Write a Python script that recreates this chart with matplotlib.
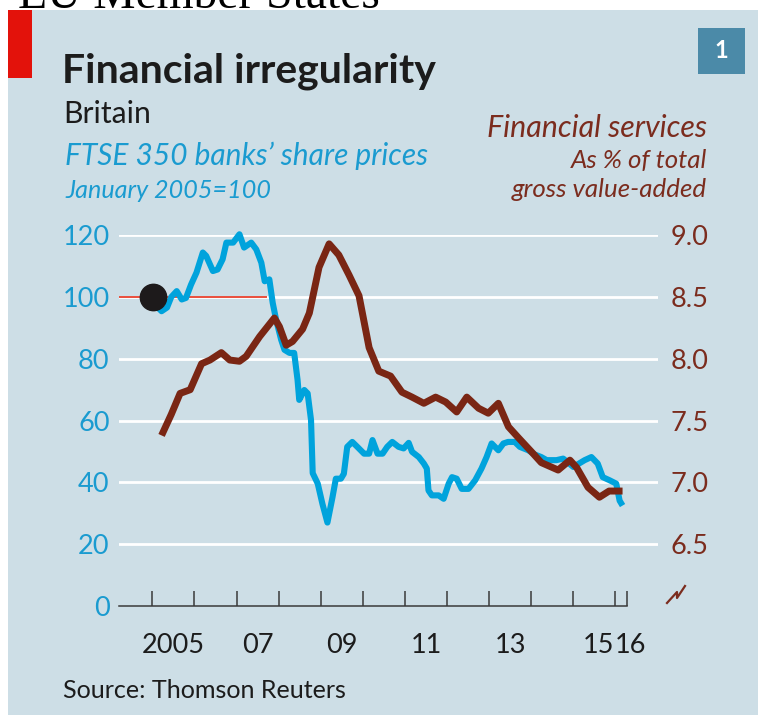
import numpy as np
import matplotlib.pyplot as plt
from matplotlib.patches import Rectangle
from matplotlib.lines import Line2D

# FTSE 350 banks' share prices, January 2005=100 (left axis)
bank_years = [2005.00, 2005.10, 2005.22, 2005.35, 2005.45, 2005.58, 2005.70, 2005.80, 2005.92,
              2006.05, 2006.20, 2006.28, 2006.44, 2006.55, 2006.67, 2006.76, 2006.92,
              2007.07, 2007.18, 2007.35, 2007.47, 2007.59, 2007.67, 2007.78, 2007.86, 2007.94,
              2008.06, 2008.14, 2008.26, 2008.37, 2008.45, 2008.49, 2008.61, 2008.69, 2008.77,
              2008.81, 2008.93, 2009.04, 2009.16, 2009.28, 2009.36, 2009.48, 2009.55, 2009.63,
              2009.75, 2009.87, 2010.03, 2010.15, 2010.23, 2010.35, 2010.47, 2010.58, 2010.70,
              2010.85, 2010.97, 2011.09, 2011.17, 2011.33, 2011.45, 2011.52, 2011.56, 2011.64,
              2011.80, 2011.92, 2012.04, 2012.12, 2012.23, 2012.35, 2012.51, 2012.67, 2012.82,
              2012.94, 2013.06, 2013.22, 2013.34, 2013.45, 2013.61, 2013.73, 2013.93, 2014.09,
              2014.24, 2014.37, 2014.60, 2014.76, 2015.00, 2015.27, 2015.43, 2015.58, 2015.70,
              2015.86, 2016.02, 2016.10, 2016.17]
bank_index = [100, 97, 95.4, 96.6, 100, 101.9, 99.2, 99.7, 104,
              107.9, 114.4, 113.3, 108.4, 108.9, 112.2, 117.6, 117.6,
              120.3, 116, 117.6, 115.4, 111.1, 105.1, 105.7, 98.1, 92.7,
              86.2, 82.9, 81.9, 81.9, 73.2, 66.7, 69.9, 68.8, 60.2,
              43, 39.6, 33.1, 27, 35.2, 41.2, 41.2, 42.8, 51.5,
              53.1, 51.5, 49.3, 49.3, 53.7, 49.3, 49.3, 51.5, 53.1,
              51.5, 51.0, 52.8, 49.9, 48.2, 46.1, 44.5, 37.4, 35.8,
              35.8, 34.7, 39.6, 41.7, 41.2, 37.9, 37.9, 40.7, 44.5,
              48.2, 52.6, 50.4, 52.6, 53.1, 53.1, 51.5, 50.4, 49,
              48.2, 47.2, 47.2, 47.7, 45, 47.2, 48.2, 46.1, 41.7,
              40.7, 39.6, 34.1, 32.5]

# Financial services, % of total gross value-added (right axis)
fin_years = [2005.22, 2005.45, 2005.66, 2005.90, 2006.17, 2006.37, 2006.64, 2006.84,
             2007.07, 2007.23, 2007.55, 2007.90, 2008.02, 2008.18, 2008.33, 2008.57,
             2008.73, 2008.96, 2009.20, 2009.43, 2009.67, 2009.91, 2010.15, 2010.38,
             2010.66, 2010.93, 2011.17, 2011.45, 2011.73, 2011.97, 2012.23, 2012.47,
             2012.75, 2012.98, 2013.22, 2013.46, 2013.70, 2014.00, 2014.24, 2014.64,
             2014.92, 2015.08, 2015.35, 2015.62, 2015.85, 2016.17]
fin_share = [7.38, 7.55, 7.72, 7.75, 7.96, 7.99, 8.05, 7.99,
             7.98, 8.02, 8.18, 8.33, 8.26, 8.11, 8.14, 8.24,
             8.37, 8.74, 8.93, 8.84, 8.68, 8.51, 8.09, 7.90,
             7.86, 7.73, 7.69, 7.64, 7.69, 7.65, 7.57, 7.69,
             7.60, 7.56, 7.64, 7.45, 7.36, 7.25, 7.16, 7.10,
             7.18, 7.12, 6.96, 6.88, 6.93, 6.93]

left_ticks = [0, 20, 40, 60, 80, 100, 120]
right_ticks = [6.5, 7.0, 7.5, 8.0, 8.5, 9.0]
year_labels = ['2005', '07', '09', '11', '13', '15', '16']
year_label_pos = [2005.5, 2007.5, 2009.5, 2011.5, 2013.5, 2015.6, 2016.35]

BG = '#cddee6'
BLUE = '#00a3dc'
BLUE_TXT = '#1a9bd0'
BROWN = '#7a2614'
BROWN_TXT = '#7b2c1e'
DARK = '#1c1c1c'

W, H = 758, 715
plt.rcParams['font.family'] = ['Lato', 'DejaVu Sans']

fig = plt.figure(figsize=(W / 100, H / 100), dpi=100, facecolor='white')


def fx(px):
    return px / W


def fy(py):
    return 1 - py / H


def fit(txt, width_px):
    r = fig.canvas.get_renderer()
    w = txt.get_window_extent(r).width
    txt.set_fontsize(txt.get_fontsize() * width_px / w)


# page heading cut off at the top
head = fig.text(fx(18), fy(7.5), 'EU Member States', family=['Liberation Serif', 'DejaVu Serif'],
                fontsize=34, color='black', va='baseline')
fit(head, 362)

fig.patches.append(Rectangle((fx(8), 0), (W - 8) / W, fy(10), transform=fig.transFigure,
                             facecolor=BG, edgecolor='none', zorder=-5))
fig.patches.append(Rectangle((fx(8), fy(78)), 24 / W, 68 / H, transform=fig.transFigure,
                             facecolor='#e3120b', edgecolor='none', zorder=-4))
fig.patches.append(Rectangle((fx(698), fy(74)), 47 / W, 46 / H, transform=fig.transFigure,
                             facecolor='#4b8aa8', edgecolor='none', zorder=-4))
fig.text(fx(721.5), fy(51), '1', color='white', fontsize=17, fontweight='bold', ha='center', va='center')

t = fig.text(fx(62), fy(83), 'Financial irregularity', fontsize=30, fontweight='bold', color=DARK, va='baseline')
fit(t, 373)
t = fig.text(fx(63), fy(123), 'Britain', fontsize=20, color=DARK, va='baseline')
fit(t, 88)
t = fig.text(fx(65), fy(165), 'FTSE 350 banks\u2019 share prices', fontsize=20, style='italic',
             color=BLUE_TXT, va='baseline')
fit(t, 362)
t = fig.text(fx(65), fy(198), 'January 2005=100', fontsize=20, style='italic', color=BLUE_TXT, va='baseline')
fit(t, 205)
t = fig.text(fx(707), fy(137), 'Financial services', fontsize=20, style='italic', color=BROWN_TXT,
             ha='right', va='baseline')
fit(t, 220)
t = fig.text(fx(707), fy(168), 'As % of total', fontsize=18, style='italic', color=BROWN_TXT,
             ha='right', va='baseline')
fit(t, 137)
t = fig.text(fx(707), fy(197), 'gross value-added', fontsize=18, style='italic', color=BROWN_TXT,
             ha='right', va='baseline')
fit(t, 195)
t = fig.text(fx(63), fy(698), 'Source: Thomson Reuters', fontsize=18, color=DARK, va='baseline')
fit(t, 283)

# plot area: 0 at y=606px, 120 at y=235px; Jan 2005 at x=152.3px, 42.1px per year
x_left, x_right, x_2005, px_year = 119.3, 658, 152.3, 42.1
X0 = 2005 - (x_2005 - x_left) / px_year
X1 = 2005 + (x_right - x_2005) / px_year
axis_end = 2016.27

ax = fig.add_axes([fx(x_left), fy(606), (x_right - x_left) / W, (606 - 235.2) / H])
ax.set_xlim(X0, X1)
ax.set_ylim(0, 120)
ax.patch.set_visible(False)
for s in ax.spines.values():
    s.set_visible(False)

for v in left_ticks[1:]:
    ax.axhline(v, color='white', lw=2.0, zorder=1)
ax.hlines(100, X0, 2007.72, color='#e8402c', lw=1.3, zorder=2)
ax.plot(bank_years, bank_index, color=BLUE, lw=4.4, zorder=3, clip_on=False,
        solid_joinstyle='round', solid_capstyle='butt')
ax.plot([2005.02], [100], 'o', ms=19, color='#1d1a1b', zorder=5)

ax.plot([X0, axis_end], [0, 0], color='#3a3a3a', lw=1.1, clip_on=False, zorder=4)
ax.set_xticks(list(range(2005, 2017)) + [axis_end])
ax.tick_params(axis='x', direction='in', length=11, width=1.1, color='#3a3a3a', labelbottom=False)
for lab, pos in zip(year_labels, year_label_pos):
    ax.text(pos, -47 / 370.8, lab, transform=ax.get_xaxis_transform(), ha='center', va='baseline',
            fontsize=19.5, color=DARK)

ax.set_yticks(left_ticks)
ax.tick_params(axis='y', length=0, pad=7, labelsize=19.5, labelcolor=BLUE_TXT)

ax2 = ax.twinx()
ax2.set_ylim(6.0, 9.0)
ax2.set_yticks(right_ticks)
ax2.set_yticklabels([f'{v:.1f}' for v in right_ticks])
ax2.tick_params(axis='y', length=0, pad=9, labelsize=19.5, labelcolor=BROWN_TXT)
ax2.patch.set_visible(False)
for s in ax2.spines.values():
    s.set_visible(False)
ax2.plot(fin_years, fin_share, color=BROWN, lw=5.0, clip_on=False,
         solid_joinstyle='round', solid_capstyle='butt')

# axis break mark on the right
bx = [667, 677, 677, 685]
by = [603, 592, 598, 586]
fig.add_artist(Line2D([fx(v) for v in bx], [fy(v) for v in by], transform=fig.transFigure,
                      color=BROWN_TXT, lw=1.6))

fig.savefig('out.png', dpi=100, facecolor='white')
